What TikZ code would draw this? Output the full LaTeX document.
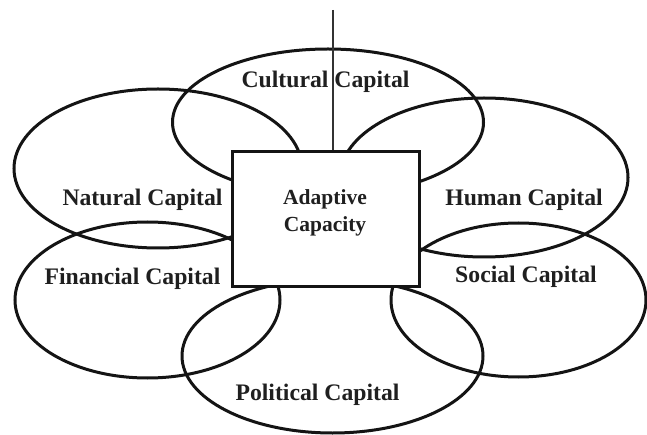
\documentclass[tikz,border=0pt]{standalone}
\usepackage{fontspec}
\setmainfont{Liberation Serif}
\usetikzlibrary{shapes.geometric}
\begin{document}
\begin{tikzpicture}[x=1pt,y=-1pt,
  capell/.style={ellipse, draw=black!92, line width=3pt, inner sep=0pt, outer sep=0pt},
  lbl/.style={font=\fontsize{23.7}{27}\selectfont\bfseries, anchor=base, inner sep=0pt, text=black!88},
  ctr/.style={font=\fontsize{21.5}{26.5}\selectfont\bfseries, anchor=base, inner sep=0pt, text=black!88},
  centralbox/.style={draw=black!92, line width=3pt, fill=white, minimum width=187pt, minimum height=135pt, inner sep=0pt},
  stem/.style={draw=black!80, line width=2pt}]
\useasboundingbox (0,0) rectangle (647,435);
% capital ellipses
\node[capell, minimum width=311pt, minimum height=146.6pt] (cul) at (328,122.3) {};
\node[capell, minimum width=288pt, minimum height=159pt] (nat) at (158,168.5) {};
\node[capell, minimum width=288pt, minimum height=159pt] (hum) at (484,177.5) {};
\node[capell, minimum width=265pt, minimum height=156pt] (fin) at (147.5,300) {};
\node[capell, minimum width=255pt, minimum height=154pt] (soc) at (518.5,300) {};
\node[capell, minimum width=301pt, minimum height=154pt] (pol) at (332.5,356) {};
% central box
\node[centralbox] (box) at (325.5,219.5) {};
% labels
\node[lbl] (tcul) at (325.5,87.3) {Cultural Capital};
\node[lbl] (tnat) at (142.5,206) {Natural Capital};
\node[lbl] (thum) at (524,205.3) {Human Capital};
\node[lbl] (tfin) at (132.5,284) {Financial Capital};
\node[lbl] (tsoc) at (526,283) {Social Capital};
\node[lbl] (tpol) at (317.5,400) {Political Capital};
\node[ctr] (tad1) at (325,205) {Adaptive};
\node[ctr] (tad2) at (325,231.7) {Capacity};
% stem
\coordinate (top) at (332.7,10);
\draw[stem] (top) -- (top |- box.north);
\end{tikzpicture}
\end{document}
